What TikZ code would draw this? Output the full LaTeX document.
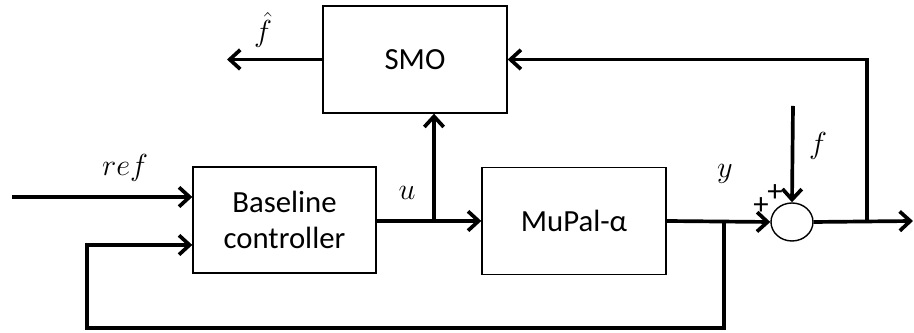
\documentclass[tikz,border=0pt]{standalone}
\usepackage{fontspec}
\setmainfont{Carlito}
\usetikzlibrary{arrows.meta,shapes.geometric}

\begin{document}
\begin{tikzpicture}[x=0.02cm,y=-0.02cm,>={Straight Barb[length=6pt,width=11pt]},
    font=\fontsize{17.5}{20}\selectfont,
    block/.style={draw,line width=0.8pt,inner sep=0pt,align=center},
    sig/.style={line width=2.1pt},
    lbl/.style={font=\fontsize{18}{21}\selectfont}]
  \useasboundingbox (0,0) rectangle (914,333);
  % blocks
  \node[block,minimum width=3.66cm,minimum height=2.12cm] (ctrl) at (284.5,220) {Baseline\\controller};
  \node[block,minimum width=3.68cm,minimum height=2.14cm] (plant) at (574,221) {MuPal-α};
  \node[block,minimum width=3.68cm,minimum height=2.14cm] (smo) at (415,59.5) {SMO};
  \node[draw,line width=0.8pt,ellipse,minimum width=0.84cm,minimum height=0.76cm,inner sep=0pt] (sum) at (792,222) {};
  % free ends and branch points
  \coordinate (refin) at (12,197);
  \coordinate (uB) at (434,221);
  \coordinate (yB) at (724,221);
  \coordinate (fb) at (87,328);
  \coordinate (fin) at (793,106);
  \coordinate (oB) at (867,221);
  \coordinate (out) at (913,221);
  \coordinate (fhat) at (227,59.5);
  % signals
  \draw[sig,->] (refin) -- (refin -| ctrl.west);
  \draw[sig,->] (ctrl.east |- uB) -- (plant.west);
  \draw[sig,->] (uB) -- (uB |- smo.south);
  \draw[sig,->] (plant.east) -- (sum.west);
  \draw[sig,->] (yB) |- (fb) |- (ctrl.west |- 0,245);
  \draw[sig,->] (fin) -- (sum.north);
  \draw[sig,->] (sum.east) -- (out);
  \draw[sig,->] (oB) |- (smo.east);
  \draw[sig,->] (smo.west) -- (fhat);
  % labels
  \node[lbl] (reflbl) at (125,168) {$ref$};
  \node[lbl] (ulbl) at (407,193) {$u$};
  \node[lbl] (ylbl) at (725,174) {$y$};
  \node[lbl] (flbl) at (818,146) {$f$};
  \node[lbl] (fhatlbl) at (263,30) {$\hat{f}$};
  \node (p1) at (775,193) {+};
  \node (p2) at (761,206) {+};
\end{tikzpicture}
\end{document}
